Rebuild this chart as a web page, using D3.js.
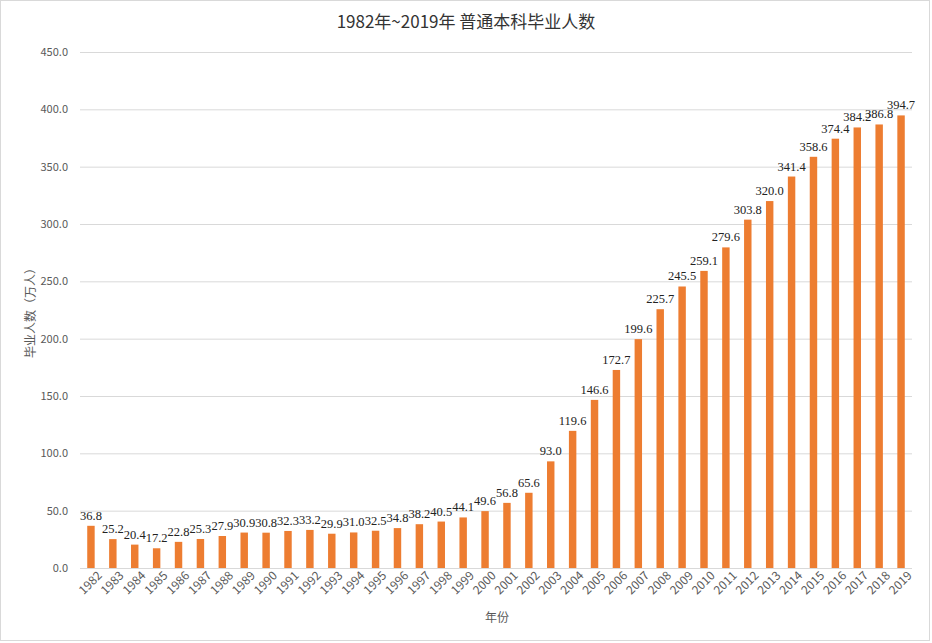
<!DOCTYPE html>
<html>
<head>
<meta charset="utf-8">
<script src="https://cdn.jsdelivr.net/npm/d3@7"></script>
<style>
  body { margin: 0; background: #fff; }
  svg { display: block; }
</style>
</head>
<body>
<svg></svg>
<script>
'use strict';
// chart data
var years = ['1982', '1983', '1984', '1985', '1986', '1987', '1988', '1989', '1990', '1991',
  '1992', '1993', '1994', '1995', '1996', '1997', '1998', '1999', '2000', '2001',
  '2002', '2003', '2004', '2005', '2006', '2007', '2008', '2009', '2010', '2011',
  '2012', '2013', '2014', '2015', '2016', '2017', '2018', '2019'];
var graduates = [36.8, 25.2, 20.4, 17.2, 22.8, 25.3, 27.9, 30.9, 30.8, 32.3,
  33.2, 29.9, 31.0, 32.5, 34.8, 38.2, 40.5, 44.1, 49.6, 56.8,
  65.6, 93.0, 119.6, 146.6, 172.7, 199.6, 225.7, 245.5, 259.1, 279.6,
  303.8, 320.0, 341.4, 358.6, 374.4, 384.2, 386.8, 394.7];
var yTicks = [0, 50, 100, 150, 200, 250, 300, 350, 400, 450];

var canvasWidth = 932;
var canvasHeight = 643;
var margin = { top: 52, right: 20, bottom: 75, left: 80 };
var width = canvasWidth - margin.left - margin.right;
var height = canvasHeight - margin.top - margin.bottom;
var sans = '"Noto Sans CJK SC", "Noto Sans", sans-serif';

var svg = d3.select('svg')
  .attr('width', canvasWidth)
  .attr('height', canvasHeight);

// outer border
svg.append('rect')
  .attr('x', 0.5).attr('y', 0.5)
  .attr('width', canvasWidth - 3).attr('height', canvasHeight - 3)
  .attr('fill', 'none')
  .attr('stroke', '#d9d9d9');

var g = svg.append('g')
  .attr('transform', 'translate(' + margin.left + ',' + margin.top + ')');

var xScale = d3.scaleBand().domain(years).range([0, width]).paddingInner(0.66).paddingOuter(0.33);
var yScale = d3.scaleLinear().domain([0, 450]).range([height, 0]);

// gridlines
g.selectAll('.grid')
  .data(yTicks)
  .enter().append('line')
  .attr('class', 'grid')
  .attr('x1', 0).attr('x2', width)
  .attr('y1', function(d) { return yScale(d) + 0.5; })
  .attr('y2', function(d) { return yScale(d) + 0.5; })
  .attr('stroke', '#d9d9d9');

// y axis
var yAxis = g.append('g')
  .call(d3.axisLeft(yScale).tickValues(yTicks).tickSize(0).tickPadding(12).tickFormat(d3.format('.1f')));
yAxis.select('.domain').remove();
yAxis.selectAll('text')
  .style('font-family', sans)
  .style('font-size', '11px')
  .attr('fill', '#595959');

// x axis
var xAxis = g.append('g')
  .attr('transform', 'translate(0,' + height + ')')
  .call(d3.axisBottom(xScale).tickSize(0).tickPadding(7));
xAxis.select('.domain').remove();
xAxis.selectAll('text')
  .style('font-family', sans)
  .style('font-size', '12px')
  .attr('fill', '#595959')
  .style('text-anchor', 'end')
  .attr('dx', '0.2em')
  .attr('dy', '0.6em')
  .attr('transform', 'rotate(-45)');

// bars
g.selectAll('.bar')
  .data(graduates)
  .enter().append('rect')
  .attr('class', 'bar')
  .attr('x', function(d, i) { return xScale(years[i]); })
  .attr('width', xScale.bandwidth())
  .attr('y', function(d) { return yScale(d); })
  .attr('height', function(d) { return height - yScale(d); })
  .attr('fill', '#ed7d31');

// data labels
g.selectAll('.label')
  .data(graduates)
  .enter().append('text')
  .attr('class', 'label')
  .attr('x', function(d, i) { return xScale(years[i]) + xScale.bandwidth() / 2; })
  .attr('y', function(d) { return yScale(d) - 6; })
  .attr('text-anchor', 'middle')
  .style('font-family', '"Liberation Serif", "DejaVu Serif", serif')
  .style('font-size', '12.5px')
  .attr('fill', '#222')
  .text(function(d) { return d.toFixed(1); });

// title
svg.append('text')
  .attr('x', canvasWidth / 2)
  .attr('y', 28)
  .attr('text-anchor', 'middle')
  .style('font-family', sans)
  .style('font-size', '17px')
  .attr('fill', '#333')
  .text('1982年~2019年 普通本科毕业人数');

// axis titles
svg.append('text')
  .attr('transform', 'translate(35,310) rotate(-90)')
  .attr('text-anchor', 'middle')
  .style('font-family', sans)
  .style('font-size', '12px')
  .attr('fill', '#595959')
  .text('毕业人数（万人）');

svg.append('text')
  .attr('x', 497)
  .attr('y', 622)
  .attr('text-anchor', 'middle')
  .style('font-family', sans)
  .style('font-size', '12px')
  .attr('fill', '#595959')
  .text('年份');
</script>
</body>
</html>
